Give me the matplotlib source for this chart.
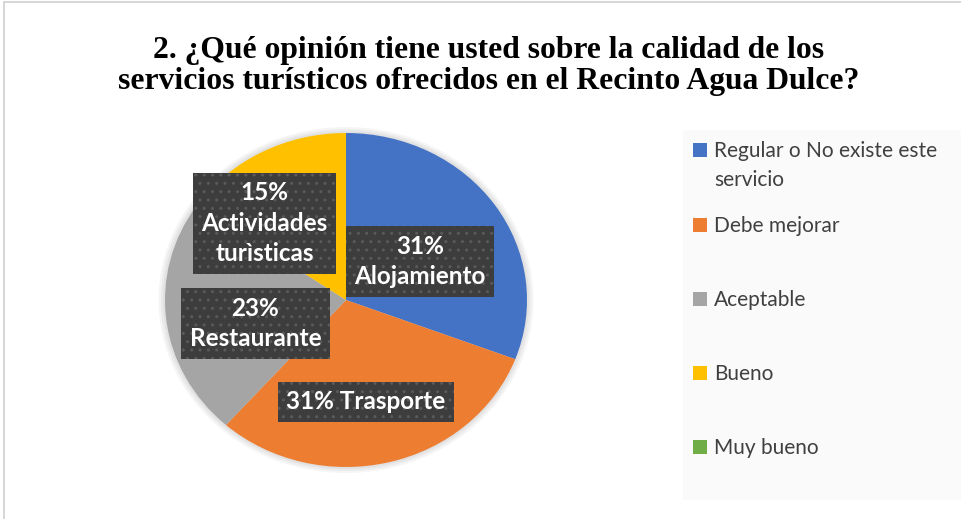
import matplotlib

matplotlib.use("Agg")

import matplotlib.pyplot as plt
from matplotlib.patches import Rectangle

# survey answers (count of respondents per option)
CATEGORIES = ["Regular o No existe este\nservicio", "Debe mejorar", "Aceptable", "Bueno", "Muy bueno"]
VALUES = [4, 4, 3, 2, 0]
SERVICES = ["Alojamiento", "Trasporte", "Restaurante", "Actividades\nturìsticas", ""]
COLORS = ["#4472C4", "#ED7D31", "#A5A5A5", "#FFC000", "#70AD47"]

TITLE = ("2. ¿Qué opinión tiene usted sobre la calidad de los\n"
         "servicios turísticos ofrecidos en el Recinto Agua Dulce?")

# label box centres in axes data units (pie radius = 1)
LABEL_POS = [(0.41, 0.23), (0.11, -0.61), (-0.50, -0.14), (-0.45, 0.46)]
ONE_LINE = [False, True, False, False]

W, H = 962, 519
fig = plt.figure(figsize=(W / 100, H / 100), dpi=100)
fig.patch.set_facecolor("white")

# chart frame + legend panel
fig.patches.append(Rectangle((4 / W, -0.01), 1.0, (H - 2) / H + 0.01, transform=fig.transFigure,
                             facecolor="none", edgecolor="#d0d0d0", linewidth=1.2, zorder=0))
fig.patches.append(Rectangle((683 / W, (H - 500) / H), (W - 683) / W, 370 / H, transform=fig.transFigure,
                             facecolor="#fafafa", edgecolor="none", zorder=1))

fig.text(489 / W, (H - 66) / H, TITLE, ha="center", va="center", fontsize=22.8, fontweight="bold",
         family="Liberation Serif", linespacing=1.1, color="black")

cx, cy, rx, ry = 346, 300, 181, 167
pad = 1.06
ax = fig.add_axes([(cx - rx * pad) / W, (H - cy - ry * pad) / H, 2 * rx * pad / W, 2 * ry * pad / H])
ax.set_zorder(2)

# soft shadow under the pie
for i in range(3):
    ax.pie([1], radius=1.0 + 0.012 * (i + 1), colors=["#000000"], startangle=90,
           wedgeprops=dict(alpha=0.04, linewidth=0))

wedges, _ = ax.pie(VALUES, colors=COLORS, startangle=90, counterclock=False,
                   wedgeprops=dict(linewidth=0))
ax.set_aspect("auto")
ax.set_xlim(-pad, pad)
ax.set_ylim(-pad, pad)
ax.set_axis_off()

plt.rcParams["hatch.linewidth"] = 1.0
total = sum(VALUES)
for i, (name, (lx, ly)) in enumerate(zip(SERVICES, LABEL_POS)):
    pct = f"{VALUES[i] / total * 100:.0f}%"
    txt = f"{pct} {name}" if ONE_LINE[i] else f"{pct}\n{name}"
    ax.text(lx, ly, txt, ha="center", va="center", fontsize=17.5, fontweight="bold",
            family="Lato", color="white", linespacing=1.4,
            bbox=dict(boxstyle="square,pad=0.35", facecolor="#3d3d3d", edgecolor="#5a5a5a",
                      linewidth=0, hatch=".."))

# legend
legend_y = [150, 225, 299, 373, 447]
for cat, col, y in zip(CATEGORIES, COLORS, legend_y):
    fig.patches.append(Rectangle((693 / W, (H - y - 7) / H), 14 / W, 14 / H, transform=fig.transFigure,
                                 facecolor=col, edgecolor="none", zorder=3))
    for k, line in enumerate(cat.split("\n")):
        fig.text(714 / W, (H - y - 7 - 29 * k) / H, line, ha="left", va="baseline",
                 fontsize=15, family="Lato", color="#404040")

fig.savefig("out.png", dpi=100, facecolor="white")
